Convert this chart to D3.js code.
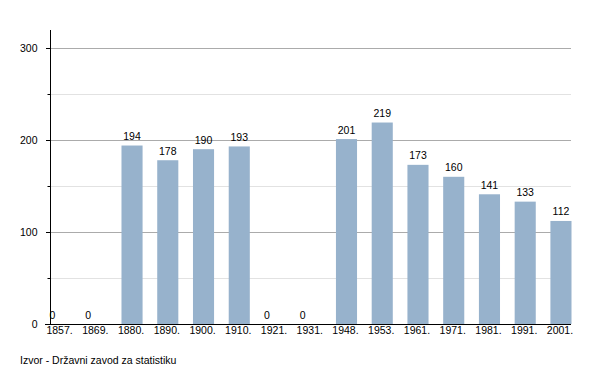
<!DOCTYPE html>
<html>
<head>
<meta charset="utf-8">
<script src="https://cdn.jsdelivr.net/npm/d3@7"></script>
<style>
  body { margin: 0; background: #fff; }
  text { font-family: "Liberation Sans", Arial, sans-serif; fill: #000; }
</style>
</head>
<body>
<div id="chart"></div>
<script>
var years  = ['1857.', '1869.', '1880.', '1890.', '1900.', '1910.', '1921.', '1931.',
              '1948.', '1953.', '1961.', '1971.', '1981.', '1991.', '2001.'];
var values = [0, 0, 194, 178, 190, 193, 0, 0, 201, 219, 173, 160, 141, 133, 112];
var majorTicks = [0, 100, 200, 300];
var minorTicks = [50, 150, 250];
var source = 'Izvor - Državni zavod za statistiku';

var width = 600, height = 373,
    plotLeft = 50, plotRight = 571.5, plotTop = 30, plotBottom = 324;

var x = d3.scaleBand()
    .domain(years)
    .range([plotLeft, plotRight])
    .paddingInner(0.41)
    .paddingOuter(0);

var y = d3.scaleLinear()
    .domain([0, 300])
    .range([plotBottom, 48]);

var svg = d3.select('#chart').append('svg')
    .attr('width', width)
    .attr('height', height);

// grid
svg.append('g').selectAll('line')
    .data(minorTicks).enter()
  .append('line')
    .attr('x1', plotLeft).attr('x2', 571)
    .attr('y1', d => Math.round(y(d)) + 0.5).attr('y2', d => Math.round(y(d)) + 0.5)
    .attr('stroke', '#e2e2e2');

svg.append('g').selectAll('line')
    .data(majorTicks.filter(d => d > 0)).enter()
  .append('line')
    .attr('x1', plotLeft).attr('x2', 571)
    .attr('y1', d => Math.round(y(d)) + 0.5).attr('y2', d => Math.round(y(d)) + 0.5)
    .attr('stroke', '#ababab');

// bars
svg.append('g').selectAll('rect')
    .data(values).enter()
  .append('rect')
    .attr('x', (d, i) => x(years[i]))
    .attr('width', x.bandwidth())
    .attr('y', d => y(d))
    .attr('height', d => plotBottom - y(d))
    .attr('fill', '#97b2cc');

// value labels
svg.append('g').selectAll('text')
    .data(values).enter()
  .append('text')
    .attr('x', (d, i) => d ? x(years[i]) + x.bandwidth() / 2 : x(years[i]) + 2.5)
    .attr('y', d => y(d) - 5.5)
    .attr('text-anchor', 'middle')
    .attr('font-size', '10.5px')
    .text(d => d);

// axes
svg.append('line')
    .attr('x1', plotLeft + 0.5).attr('x2', plotLeft + 0.5)
    .attr('y1', plotTop).attr('y2', plotBottom + 0.5)
    .attr('stroke', '#000');

svg.append('line')
    .attr('x1', 45).attr('x2', 571)
    .attr('y1', plotBottom + 0.5).attr('y2', plotBottom + 0.5)
    .attr('stroke', '#000');

svg.append('g').selectAll('line')
    .data(majorTicks.filter(d => d > 0)).enter()
  .append('line')
    .attr('x1', 46).attr('x2', plotLeft)
    .attr('y1', d => Math.round(y(d)) + 0.5).attr('y2', d => Math.round(y(d)) + 0.5)
    .attr('stroke', '#000');

svg.append('g').selectAll('line')
    .data(minorTicks).enter()
  .append('line')
    .attr('x1', 47.5).attr('x2', plotLeft)
    .attr('y1', d => Math.round(y(d)) + 0.5).attr('y2', d => Math.round(y(d)) + 0.5)
    .attr('stroke', '#000');

svg.append('g').selectAll('text')
    .data(majorTicks).enter()
  .append('text')
    .attr('x', 37.5)
    .attr('y', d => y(d))
    .attr('dy', '.35em')
    .attr('text-anchor', 'end')
    .attr('font-size', '10.5px')
    .text(String);

svg.append('g').selectAll('text')
    .data(years).enter()
  .append('text')
    .attr('x', d => x(d) + x.bandwidth() / 2 - 1)
    .attr('y', 334)
    .attr('text-anchor', 'middle')
    .attr('font-size', '10.5px')
    .text(String);

svg.append('text')
    .attr('x', 20)
    .attr('y', 364)
    .attr('font-size', '10.5px')
    .text(source);
</script>
</body>
</html>
